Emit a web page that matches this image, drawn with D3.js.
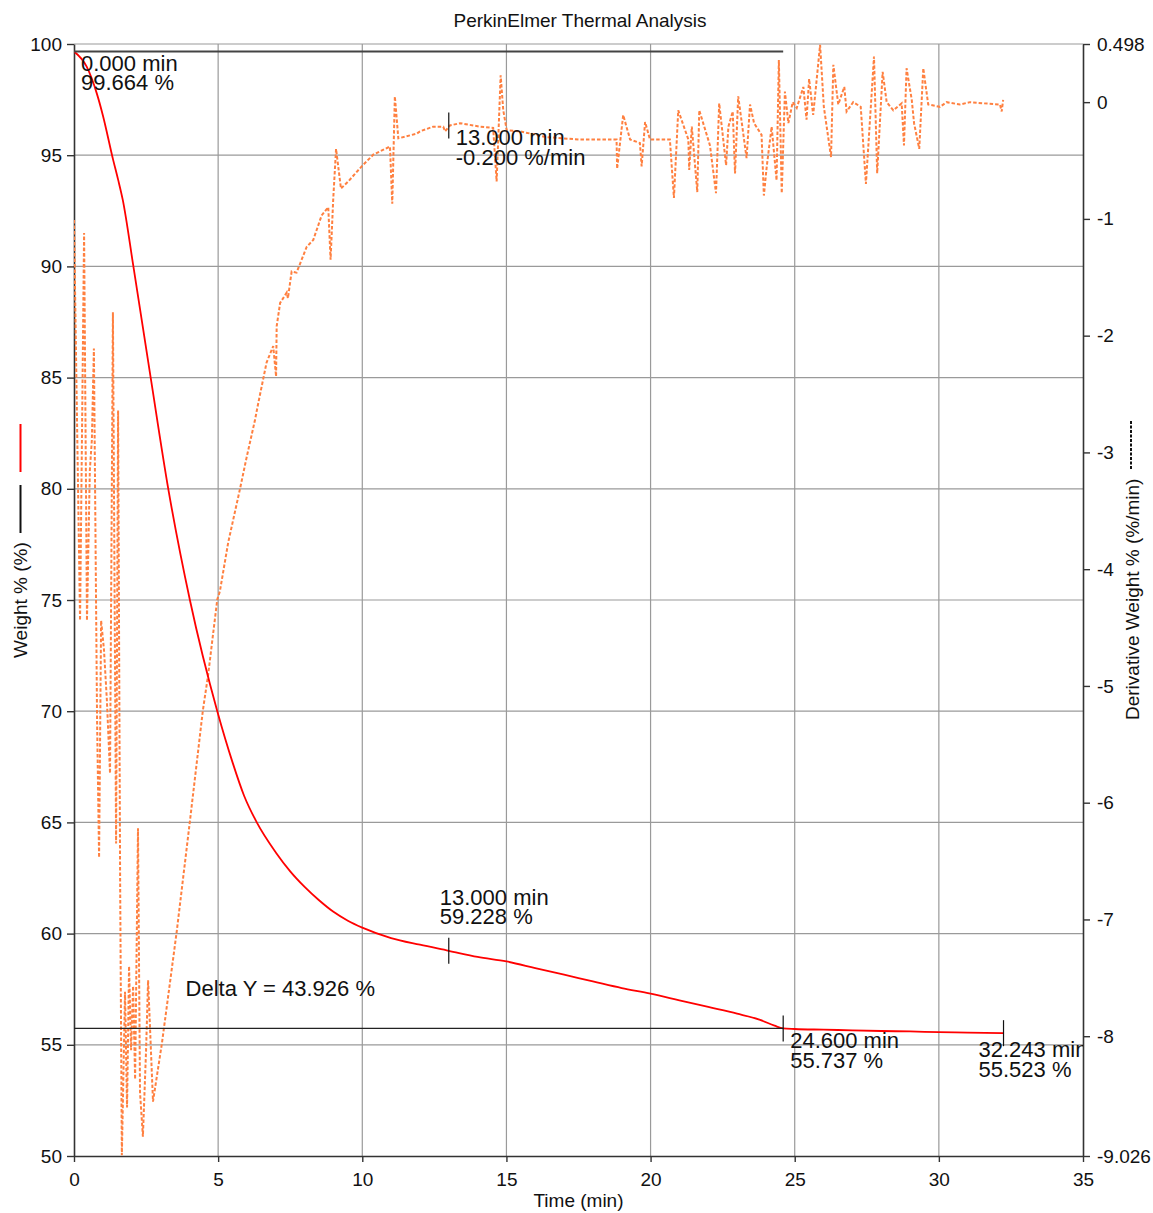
<!DOCTYPE html>
<html>
<head>
<meta charset="utf-8">
<script src="https://cdn.jsdelivr.net/npm/d3@7"></script>
<style>
    body { margin: 0; background: #ffffff; }
    text { font-family: "Liberation Sans", Arial, sans-serif; fill: #111; }
</style>
</head>
<body>
<svg id="chart" width="1153" height="1213"></svg>
<script>
// -------------- DATA ----------------- //

// weight curve (min, %)
const weightTime = [0, 0.44, 0.79, 1.0, 1.36, 1.53, 1.69, 2.06, 2.66, 3.27, 4.02, 4.97, 5.5, 5.9, 6.34, 7, 7.5, 8, 8.5, 9, 9.5,
    10, 11, 12, 13, 14, 15, 16, 17, 18, 19, 20, 21, 22, 23, 23.8, 24.3, 24.6, 25, 26, 27, 28, 29, 30, 31, 32.243];
const weightValue = [99.664, 98.98, 97.78, 96.8, 94.78, 93.9, 93.0, 90, 85, 80, 75, 70, 67.7, 66.2, 65, 63.65, 62.8, 62.1, 61.5, 60.98, 60.58,
    60.27, 59.8, 59.5, 59.228, 58.95, 58.75, 58.45, 58.15, 57.85, 57.55, 57.3, 57.0, 56.7, 56.4, 56.12, 55.86, 55.737, 55.71, 55.68, 55.65, 55.62, 55.60, 55.57, 55.55, 55.523];

// derivative curve (min, %/min)
const derivTime = [0, 0.21, 0.35, 0.45, 0.55, 0.62, 0.69, 0.80, 0.87, 0.94, 1.04, 1.14, 1.25, 1.35, 1.46, 1.53, 1.60, 1.66,
    1.77, 1.84, 1.91, 1.98, 2.05, 2.12, 2.22, 2.29, 2.39, 2.50, 2.57, 2.74, 3.05, 3.26, 3.56, 4.02, 4.47, 4.65, 4.97, 5.06,
    5.35, 5.76, 5.99, 6.28, 6.39, 6.68, 6.91, 7.01, 7.03, 7.15, 7.38, 7.42, 7.55, 7.72, 8.07, 8.30, 8.59, 8.82, 8.90, 8.99,
    9.09, 9.26, 9.51, 9.98, 10.38, 10.96, 11.04, 11.13, 11.25, 11.89, 12.00, 12.46, 12.81, 12.87, 13.04, 13.39, 14.08, 14.54,
    14.66, 14.80, 14.89, 15.01, 15.47, 16.40, 17.55, 18.24, 18.82, 18.84, 19.05, 19.29, 19.63, 19.69, 19.81, 19.98, 20.67,
    20.81, 20.96, 21.31, 21.34, 21.43, 21.62, 21.69, 22.06, 22.27, 22.38, 22.62, 22.70, 22.85, 22.93, 23.04, 23.33, 23.45,
    23.59, 23.85, 23.93, 24.03, 24.20, 24.37, 24.45, 24.55, 24.66, 24.78, 24.93, 25.07, 25.30, 25.41, 25.50, 25.64, 25.88,
    26.01, 26.26, 26.34, 26.51, 26.72, 26.80, 27.03, 27.29, 27.47, 27.75, 27.86, 28.05, 28.19, 28.42, 28.71, 28.79, 28.88,
    29.06, 29.14, 29.32, 29.46, 29.63, 30.04, 30.27, 30.73, 31.08, 31.54, 32.12, 32.18, 32.23];
const derivValue = [-1.01, -4.44, -1.12, -4.44, -3.15, -2.89, -2.11, -5.29, -6.47, -4.44, -4.69, -5.12, -5.75, -1.80, -6.35, -2.64, -6.66, -9.02,
    -7.62, -8.61, -7.40, -8.12, -7.57, -8.37, -6.22, -8.48, -8.86, -8.12, -7.52, -8.56, -8.06, -7.67, -7.11, -6.16, -5.21, -4.91, -4.26, -4.19,
    -3.77, -3.31, -3.04, -2.72, -2.58, -2.23, -2.09, -2.35, -1.92, -1.72, -1.63, -1.68, -1.45, -1.46, -1.24, -1.18, -0.97, -0.90, -1.35, -0.84,
    -0.40, -0.74, -0.68, -0.55, -0.45, -0.38, -0.87, 0.05, -0.31, -0.27, -0.25, -0.21, -0.21, -0.25, -0.20, -0.18, -0.21, -0.22,
    -0.68, 0.23, -0.07, -0.24, -0.25, -0.30, -0.32, -0.32, -0.32, -0.57, -0.11, -0.32, -0.35, -0.55, -0.17, -0.32, -0.32,
    -0.82, -0.07, -0.32, -0.58, -0.21, -0.77, -0.07, -0.37, -0.78, -0.01, -0.54, -0.21, -0.08, -0.61, 0.05, -0.48, -0.02,
    -0.18, -0.28, -0.80, -0.55, -0.21, -0.67, 0.36, -0.78, 0.09, -0.18, 0.00, -0.05, 0.13, -0.15, 0.20, -0.11, 0.49,
    -0.04, -0.47, 0.32, -0.02, 0.13, -0.08, 0.00, -0.04, -0.70, 0.39, -0.61, 0.26, 0.00, -0.07, -0.01, -0.37, 0.29,
    0.02, -0.18, -0.40, 0.29, -0.02, -0.04, 0.00, -0.02, 0.00, -0.01, -0.02, -0.08, 0.02];

const timeTicks = [0, 5, 10, 15, 20, 25, 30, 35];
const weightTicks = [50, 55, 60, 65, 70, 75, 80, 85, 90, 95, 100];
const derivTicks = [0.498, 0, -1, -2, -3, -4, -5, -6, -7, -8, -9.026];

// point annotations: time, value, which curve
const markTime = [0, 13, 24.6, 32.243, 13];
const markValue = [99.664, 59.228, 55.737, 55.523, -0.2];
const markCurve = ["weight", "weight", "weight", "weight", "deriv"];

// delta Y step between first and third weight marks
const stepStart = 99.664;
const stepEnd = 55.737;
const stepUntil = 24.6;

// -------------- LAYOUT ----------------- //

const svg = d3.select("#chart");
const W = 1153, H = 1213;
const plot = { left: 74, right: 1083, top: 44, bottom: 1156 };
const gridColor = "#9a9a9a";
const axisColor = "#333333";
const weightColor = "#ff0000";
const derivColor = "#ff8040";

// label offsets (px) from each mark: dx, dy of first line; tick visible?
const labelOffsets = [
    { dx: 7, dy: 19.5, tick: false },
    { dx: -9, dy: -46, tick: true },
    { dx: 7, dy: 20, tick: true },
    { dx: -25, dy: 24, tick: true },
    { dx: 7, dy: 20, tick: true }
];

const x = d3.scaleLinear().domain([0, 35]).range([plot.left, plot.right]);
const yW = d3.scaleLinear().domain([50, 100]).range([plot.bottom, plot.top]);
const yD = d3.scaleLinear().domain([-9.026, 0.498]).range([plot.bottom, plot.top]);

svg.append("rect").attr("width", W).attr("height", H).attr("fill", "#ffffff");

svg.append("defs").append("clipPath").attr("id", "plotClip")
    .append("rect")
    .attr("x", plot.left).attr("y", plot.top)
    .attr("width", plot.right - plot.left).attr("height", plot.bottom - plot.top);

// -------------- GRID ----------------- //

const grid = svg.append("g");
grid.selectAll("line.v")
    .data(timeTicks.filter(t => t > 0 && t < 35))
    .join("line")
    .attr("x1", d => x(d)).attr("x2", d => x(d))
    .attr("y1", plot.top).attr("y2", plot.bottom)
    .attr("stroke", gridColor).attr("stroke-width", 1.2);
grid.selectAll("line.h")
    .data(weightTicks.filter(w => w > 50))
    .join("line")
    .attr("x1", plot.left).attr("x2", plot.right)
    .attr("y1", d => yW(d)).attr("y2", d => yW(d))
    .attr("stroke", gridColor).attr("stroke-width", 1.2);

// -------------- AXES ----------------- //

function styleAxis(g) {
    g.selectAll("path.domain").attr("stroke", axisColor).attr("stroke-width", 1.6);
    g.selectAll(".tick line").attr("stroke", axisColor).attr("stroke-width", 1.4);
    g.selectAll(".tick text")
        .attr("font-size", 19)
        .attr("font-family", "Liberation Sans, Arial, sans-serif")
        .attr("fill", "#111");
}

svg.append("g")
    .attr("transform", `translate(${plot.left},0)`)
    .call(d3.axisLeft(yW).tickValues(weightTicks).tickFormat(d3.format("d")).tickSize(7).tickSizeOuter(0).tickPadding(5))
    .call(styleAxis);

svg.append("g")
    .attr("transform", `translate(${plot.right},0)`)
    .call(d3.axisRight(yD).tickValues(derivTicks).tickFormat(d => d === 0 ? "0" : String(d)).tickSize(7).tickSizeOuter(0).tickPadding(7))
    .call(styleAxis);

svg.append("g")
    .attr("transform", `translate(0,${plot.bottom})`)
    .call(d3.axisBottom(x).tickValues(timeTicks).tickFormat(d3.format("d")).tickSize(6).tickSizeOuter(0).tickPadding(11))
    .call(styleAxis);

// -------------- CURVES ----------------- //

const curves = svg.append("g").attr("clip-path", "url(#plotClip)");

const derivLine = d3.line()
    .x(d => x(d[0]))
    .y(d => yD(d[1]));
curves.append("path")
    .datum(d3.zip(derivTime, derivValue))
    .attr("d", derivLine)
    .attr("fill", "none")
    .attr("stroke", derivColor)
    .attr("stroke-width", 2)
    .attr("stroke-dasharray", "3.5,2");

const weightLine = d3.line()
    .curve(d3.curveMonotoneX)
    .x(d => x(d[0]))
    .y(d => yW(d[1]));
curves.append("path")
    .datum(d3.zip(weightTime, weightValue))
    .attr("d", weightLine)
    .attr("fill", "none")
    .attr("stroke", weightColor)
    .attr("stroke-width", 1.8);

// step lines for delta Y
curves.append("line")
    .attr("x1", x(0)).attr("x2", x(stepUntil))
    .attr("y1", yW(stepStart)).attr("y2", yW(stepStart))
    .attr("stroke", "#444").attr("stroke-width", 2);
curves.append("line")
    .attr("x1", x(0)).attr("x2", x(stepUntil))
    .attr("y1", yW(stepEnd)).attr("y2", yW(stepEnd))
    .attr("stroke", "#222").attr("stroke-width", 1.3);

curves.append("text")
    .attr("x", x(3.87)).attr("y", yW(stepEnd) - 32)
    .attr("font-size", 22)
    .text(`Delta Y = ${(stepStart - stepEnd - 0.001).toFixed(3)} %`);

// -------------- ANNOTATIONS ----------------- //

markTime.forEach((t, i) => {
    const v = markValue[i];
    const scaleY = markCurve[i] === "weight" ? yW : yD;
    const px = x(t), py = scaleY(v);
    const off = labelOffsets[i];
    if (off.tick) {
        curves.append("line")
            .attr("x1", px).attr("x2", px)
            .attr("y1", py - 13).attr("y2", py + 13)
            .attr("stroke", "#111").attr("stroke-width", 1.2);
    }
    const unit = markCurve[i] === "weight" ? "%" : "%/min";
    const label = curves.append("text")
        .attr("font-size", 22)
        .attr("x", px + off.dx).attr("y", py + off.dy);
    label.append("tspan").attr("x", px + off.dx).text(`${t.toFixed(3)} min`);
    label.append("tspan").attr("x", px + off.dx).attr("dy", 19.5).text(`${v.toFixed(3)} ${unit}`);
});

// -------------- TITLES ----------------- //

svg.append("text")
    .attr("x", 580).attr("y", 27)
    .attr("text-anchor", "middle")
    .attr("font-size", 19)
    .text("PerkinElmer Thermal Analysis");

svg.append("text")
    .attr("x", (plot.left + plot.right) / 2 + 0).attr("y", 1207)
    .attr("text-anchor", "middle")
    .attr("font-size", 19)
    .text("Time (min)");

// left axis title with legend swatches
svg.append("text")
    .attr("transform", "translate(27,658) rotate(-90)")
    .attr("font-size", 19)
    .text("Weight % (%)");
svg.append("line")
    .attr("x1", 20.5).attr("x2", 20.5).attr("y1", 533).attr("y2", 485)
    .attr("stroke", "#111").attr("stroke-width", 2);
svg.append("line")
    .attr("x1", 20.5).attr("x2", 20.5).attr("y1", 472).attr("y2", 424)
    .attr("stroke", weightColor).attr("stroke-width", 2);

// right axis title with legend swatch
svg.append("text")
    .attr("transform", "translate(1139,720) rotate(-90)")
    .attr("font-size", 19)
    .text("Derivative Weight % (%/min)");
svg.append("line")
    .attr("x1", 1131).attr("x2", 1131).attr("y1", 469).attr("y2", 421)
    .attr("stroke", "#111").attr("stroke-width", 2)
    .attr("stroke-dasharray", "3,1.5");
</script>
</body>
</html>
